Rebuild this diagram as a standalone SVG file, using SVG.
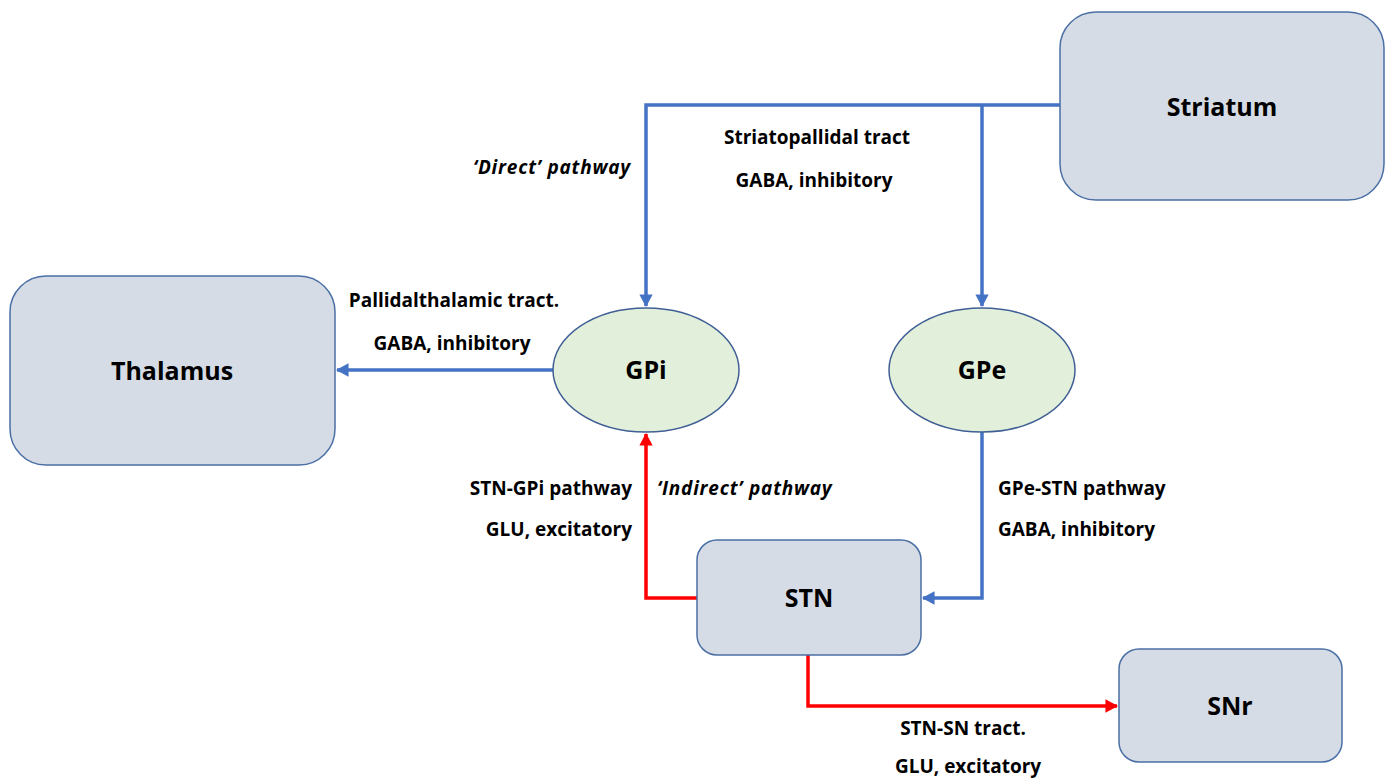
<svg xmlns="http://www.w3.org/2000/svg" width="1385" height="779" viewBox="0 0 1385 779">
<defs>
<style>
.box{fill:#D6DCE5;stroke:#4A6FA5;stroke-width:1.5}
.ell{fill:#E2EFDA;stroke:#3F5F95;stroke-width:1.5}
.nl{font-family:"Open Sans","Liberation Sans",sans-serif;font-weight:bold;font-size:25px;fill:#000;text-anchor:middle}
.lb{font-family:"Open Sans","Liberation Sans",sans-serif;font-weight:bold;font-size:19px;fill:#000}
.it{font-style:italic;letter-spacing:0.8px}
.blue{fill:none;stroke:#4472C4;stroke-width:3.5}
.red{fill:none;stroke:#FF0000;stroke-width:3.5}
</style>
<marker id="ab" markerWidth="3.6" markerHeight="3.8" refX="3.3" refY="1.9" orient="auto" markerUnits="strokeWidth"><path d="M0,0 L3.6,1.9 L0,3.8 Z" fill="#4472C4"/></marker>
<marker id="ar" markerWidth="3.6" markerHeight="3.8" refX="3.3" refY="1.9" orient="auto" markerUnits="strokeWidth"><path d="M0,0 L3.6,1.9 L0,3.8 Z" fill="#FF0000"/></marker>
</defs>
<rect width="1385" height="779" fill="#fff"/>
<g id="connectors">
<path class="blue" d="M1060,105 H646 V306" marker-end="url(#ab)"/>
<path class="blue" d="M982,105 V306" marker-end="url(#ab)"/>
<path class="blue" d="M553,370 H337" marker-end="url(#ab)"/>
<path class="blue" d="M982,432 V598 H923" marker-end="url(#ab)"/>
<path class="red" d="M697,598 H646 V434" marker-end="url(#ar)"/>
<path class="red" d="M808,655 V706 H1117" marker-end="url(#ar)"/>
</g>
<g id="striatum"><rect class="box" x="1060" y="12" width="324" height="188" rx="36"/><text class="nl" x="1222" y="116">Striatum</text></g>
<g id="thalamus"><rect class="box" x="10" y="276" width="325" height="189" rx="36"/><text class="nl" x="172" y="380">Thalamus</text></g>
<g id="gpi"><ellipse class="ell" cx="646" cy="370" rx="93" ry="62"/><text class="nl" x="646" y="379">GPi</text></g>
<g id="gpe"><ellipse class="ell" cx="982" cy="370" rx="93" ry="62"/><text class="nl" x="982" y="379">GPe</text></g>
<g id="stn"><rect class="box" x="697" y="540" width="224" height="115" rx="20"/><text class="nl" x="809" y="607">STN</text></g>
<g id="snr"><rect class="box" x="1119" y="649" width="223" height="113" rx="20"/><text class="nl" x="1230" y="715">SNr</text></g>
<g id="labels">
<text class="lb it" x="631" y="174" text-anchor="end">‘Direct’ pathway</text>
<text class="lb" x="817" y="144" text-anchor="middle">Striatopallidal tract</text>
<text class="lb" x="814" y="187" text-anchor="middle">GABA, inhibitory</text>
<text class="lb" x="454" y="307" text-anchor="middle">Pallidalthalamic tract.</text>
<text class="lb" x="452" y="350" text-anchor="middle">GABA, inhibitory</text>
<text class="lb" x="632" y="495" text-anchor="end">STN-GPi pathway</text>
<text class="lb" x="632" y="536" text-anchor="end">GLU, excitatory</text>
<text class="lb it" x="657" y="495">‘Indirect’ pathway</text>
<text class="lb" x="998" y="495">GPe-STN pathway</text>
<text class="lb" x="998" y="536">GABA, inhibitory</text>
<text class="lb" x="963" y="735" text-anchor="middle">STN-SN tract.</text>
<text class="lb" x="968" y="773" text-anchor="middle">GLU, excitatory</text>
</g>
</svg>
